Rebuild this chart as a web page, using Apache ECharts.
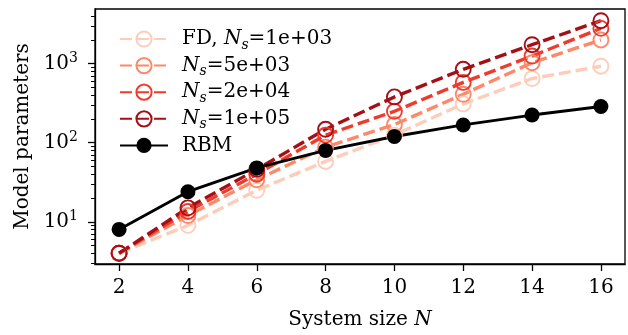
<!DOCTYPE html>
<html><head><meta charset="utf-8">
<script src="https://cdn.jsdelivr.net/npm/echarts@6/dist/echarts.min.js"></script>
<style>html,body{margin:0;padding:0;background:#fff}#c{width:628px;height:335px}</style>
</head><body><div id="c"></div>
<script>
const systemSizes = [2, 4, 6, 8, 10, 12, 14, 16];
const fdNs1e3 = [4, 9, 25, 58, 125, 310, 650, 930];
const fdNs5e3 = [4, 12, 34, 88, 170, 410, 1030, 2000];
const fdNs2e4 = [4, 13.5, 40, 125, 250, 580, 1250, 2800];
const fdNs1e5 = [4, 15, 46, 148, 380, 850, 1740, 3500];
const rbmParams = [8, 24, 48, 80, 120, 168, 224, 288];
const xTickValues = [2, 4, 6, 8, 10, 12, 14, 16];
const yMajorTicks = [10, 100, 1000];
const yMinorTicks = [3, 4, 5, 6, 7, 8, 9, 20, 30, 40, 50, 60, 70, 80, 90, 200, 300, 400, 500, 600, 700, 800, 900, 2000, 3000, 4000];
const seriesNames = ['FD, Ns=1e+03', 'Ns=5e+03', 'Ns=2e+04', 'Ns=1e+05', 'RBM'];
const seriesColors = ['#fdcdb9', '#fc8a6a', '#ef3b2c', '#a50f15', '#000000'];

const FONT = 'DejaVu Serif';
const rich = {
  r: { fontFamily: FONT, fontSize: 20, lineHeight: 26, color: '#000' },
  i: { fontFamily: FONT, fontSize: 20, lineHeight: 26, fontStyle: 'italic', color: '#000' },
  s: { fontFamily: FONT, fontSize: 14, lineHeight: 14, fontStyle: 'italic', verticalAlign: 'bottom', color: '#000' },
  b: { fontFamily: FONT, fontSize: 20, lineHeight: 24, color: '#000' },
  p: { fontFamily: FONT, fontSize: 14, lineHeight: 14, verticalAlign: 'top', color: '#000' }
};

function legendFmt(name) {
  const m = name.match(/^(.*)Ns=(.*)$/);
  if (!m) return '{r|' + name + '}';
  return (m[1] ? '{r|' + m[1] + '}' : '') + '{i|N}{s|s}{r|=' + m[2] + '}';
}

const fdData = [fdNs1e3, fdNs5e3, fdNs2e4, fdNs1e5];
const series = fdData.map((vals, k) => ({
  name: seriesNames[k],
  type: 'line',
  data: systemSizes.map((x, j) => [x, vals[j]]),
  symbol: 'circle',
  symbolSize: 15,
  lineStyle: { color: seriesColors[k], width: 3.4, type: [12, 5] },
  itemStyle: { color: 'rgba(0,0,0,0)', borderColor: seriesColors[k], borderWidth: 1.9 },
  emphasis: { disabled: true },
  animation: false
}));
series.push({
  name: seriesNames[4],
  type: 'line',
  data: systemSizes.map((x, j) => [x, rbmParams[j]]),
  symbol: 'circle',
  symbolSize: 15,
  lineStyle: { color: '#000', width: 2.9 },
  itemStyle: { color: '#000', borderWidth: 0 },
  emphasis: { disabled: true },
  animation: false
});

const chart = echarts.init(document.getElementById('c'), null, { renderer: 'canvas' });
chart.setOption({
  animation: false,
  backgroundColor: '#fff',
  grid: { left: 95, right: 3, top: 9, bottom: 68, show: true, borderColor: '#000', borderWidth: 1.3, containLabel: false },
  legend: {
    orient: 'vertical', left: 114, top: 24,
    itemWidth: 48, itemHeight: 19, itemGap: 3.6,
    formatter: legendFmt,
    textStyle: { rich: rich, padding: [0, 0, 0, 9] },
    data: seriesNames
  },
  xAxis: {
    type: 'value', min: 1.3, max: 16.7,
    name: '{r|System size }{i|N}', nameLocation: 'middle', nameGap: 43,
    nameTextStyle: { rich: rich },
    axisLine: { show: true, lineStyle: { color: '#000', width: 1.3 } },
    axisTick: { show: true, customValues: xTickValues, length: 7, lineStyle: { color: '#000', width: 1.3 } },
    axisLabel: { customValues: xTickValues, margin: 14, fontFamily: FONT, fontSize: 20, color: '#000' },
    splitLine: { show: false }
  },
  yAxis: [{
    type: 'log', logBase: 10, min: 2.92, max: 4926,
    name: 'Model parameters', nameLocation: 'middle', nameGap: 60,
    nameTextStyle: { fontFamily: FONT, fontSize: 20, color: '#000' },
    axisLine: { show: true, lineStyle: { color: '#000', width: 1.3 } },
    axisTick: { show: true, customValues: yMajorTicks, length: 7, lineStyle: { color: '#000', width: 1.3 } },
    axisLabel: {
      customValues: yMajorTicks, margin: 17,
      formatter: v => '{b|10}{p|' + Math.round(Math.log10(v)) + '}',
      rich: rich
    },
    splitLine: { show: false }, minorTick: { show: false }
  }, {
    type: 'log', logBase: 10, min: 2.92, max: 4926, position: 'left',
    axisLine: { show: false },
    axisTick: { show: true, customValues: yMinorTicks, length: 4, lineStyle: { color: '#000', width: 1 } },
    axisLabel: { show: false },
    splitLine: { show: false }
  }],
  series: series
});
</script></body></html>
